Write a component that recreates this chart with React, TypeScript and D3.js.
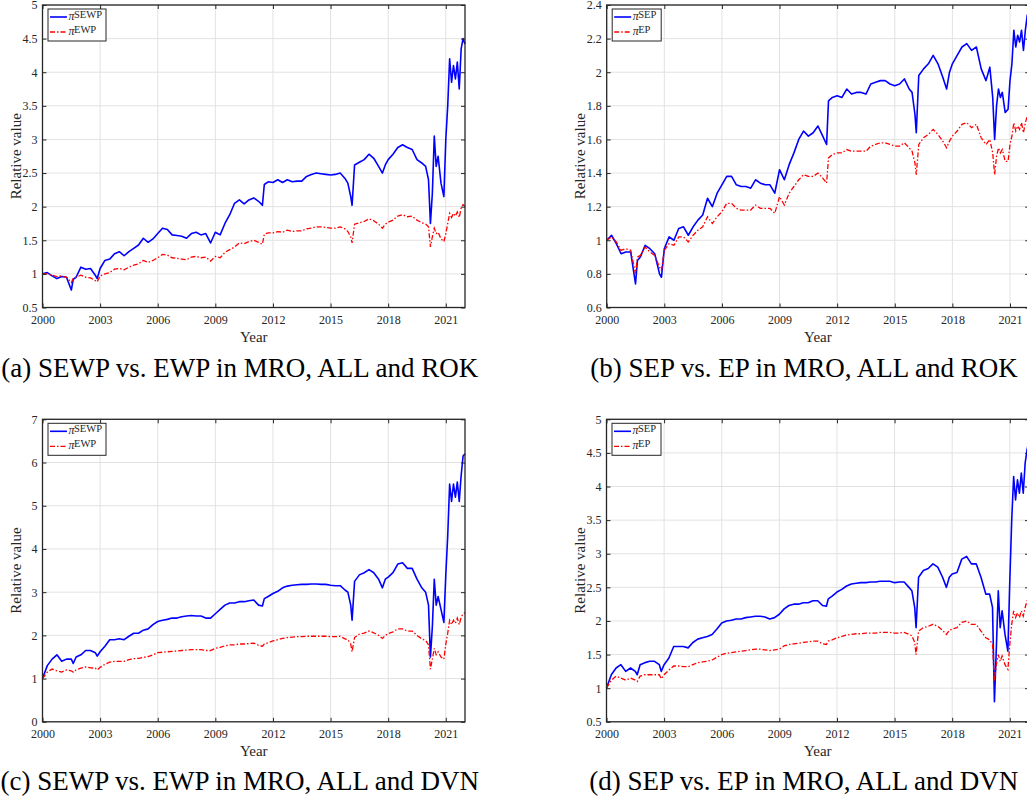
// App.tsx

import React, { useEffect, useRef } from "react";
import * as d3 from "d3";

// sample dates (fractional years), shared by every series
const dates = [
  2000, 2000.25, 2000.5, 2000.75, 2001, 2001.25, 2001.5, 2001.6, 2001.75, 2002, 2002.25, 2002.5, 2002.75, 2002.85,
  2003, 2003.25, 2003.5, 2003.75, 2004, 2004.25, 2004.5, 2004.75, 2005, 2005.25, 2005.5, 2005.75, 2006, 2006.25, 2006.5, 2006.75,
  2007, 2007.25, 2007.5, 2007.75, 2008, 2008.25, 2008.5, 2008.75, 2009, 2009.25, 2009.5, 2009.75, 2010, 2010.25, 2010.5, 2010.75, 2011, 2011.25,
  2011.45, 2011.55, 2011.75, 2012, 2012.25, 2012.5, 2012.75, 2013, 2013.25, 2013.5, 2013.75, 2014, 2014.25, 2014.5, 2014.75, 2015, 2015.25, 2015.5, 2015.75,
  2015.9, 2016.05, 2016.12, 2016.25, 2016.5, 2016.75, 2017, 2017.25, 2017.5, 2017.7, 2017.85, 2018, 2018.25, 2018.5, 2018.75, 2019, 2019.25, 2019.5, 2019.75, 2019.95,
  2020.1, 2020.2, 2020.3, 2020.4, 2020.5, 2020.6, 2020.75, 2020.9, 2021, 2021.1, 2021.2, 2021.3, 2021.4, 2021.5, 2021.6, 2021.7, 2021.8, 2021.9, 2022,
];

// (a) MRO, ALL and ROK
const sewpRok = [
  1.0, 1.02, 0.97, 0.93, 0.96, 0.95, 0.76, 0.92, 0.95, 1.1, 1.07, 1.08, 0.98, 0.93,
  1.08, 1.2, 1.22, 1.3, 1.33, 1.27, 1.33, 1.38, 1.43, 1.53, 1.47, 1.52, 1.6, 1.68, 1.66, 1.58,
  1.57, 1.56, 1.53, 1.6, 1.62, 1.58, 1.6, 1.46, 1.62, 1.58, 1.75, 1.88, 2.05, 2.1, 2.04, 2.1, 2.13, 2.08,
  2.02, 2.33, 2.37, 2.36, 2.4, 2.36, 2.4, 2.37, 2.38, 2.38, 2.45, 2.48, 2.5, 2.49, 2.48, 2.47, 2.48, 2.5, 2.42,
  2.35, 2.15, 2.02, 2.62, 2.66, 2.7, 2.78, 2.72, 2.6, 2.5, 2.62, 2.7, 2.78, 2.88, 2.92, 2.88, 2.85, 2.7, 2.65, 2.6,
  2.4, 1.75, 2.2, 3.05, 2.6, 2.75, 2.35, 2.15, 3.0, 3.5, 4.2, 3.85, 4.1, 3.9, 4.15, 3.75, 4.35, 4.5, 4.42,
];
const ewpRok = [
  1.0, 1.0, 0.98, 0.96, 0.97, 0.95, 0.87, 0.93, 0.95, 0.98, 0.95, 0.94, 0.9, 0.88,
  0.97, 1.0, 1.02, 1.07, 1.08, 1.06, 1.1, 1.13, 1.15, 1.2, 1.17, 1.2, 1.24, 1.29, 1.28, 1.24,
  1.23, 1.22, 1.21, 1.25, 1.26, 1.24, 1.25, 1.19, 1.26, 1.24, 1.32, 1.36, 1.4, 1.46, 1.45, 1.48, 1.5, 1.47,
  1.44, 1.59, 1.61, 1.61, 1.63, 1.62, 1.65, 1.63, 1.64, 1.64, 1.67, 1.68, 1.7, 1.7, 1.69, 1.68, 1.68, 1.7, 1.67,
  1.63, 1.55, 1.46, 1.74, 1.76, 1.78, 1.82, 1.79, 1.74, 1.68, 1.74, 1.77, 1.8, 1.86, 1.88, 1.85, 1.86, 1.8, 1.76, 1.74,
  1.7, 1.4, 1.55, 1.68, 1.6, 1.62, 1.52, 1.48, 1.6, 1.75, 1.9, 1.84, 1.9, 1.86, 1.92, 1.84, 1.98, 2.03, 2.0,
];

// (b) MRO, ALL and ROK
const sepRok = [
  1.0, 1.03, 0.98, 0.92, 0.93, 0.93, 0.74, 0.88, 0.9, 0.97, 0.95, 0.92, 0.8, 0.78,
  0.95, 1.02, 1.0, 1.07, 1.08, 1.03, 1.08, 1.12, 1.15, 1.25, 1.2, 1.28, 1.33, 1.38, 1.38, 1.33,
  1.32, 1.32, 1.31, 1.36, 1.34, 1.33, 1.33, 1.28, 1.42, 1.36, 1.45, 1.52, 1.6, 1.65, 1.62, 1.64, 1.68, 1.62,
  1.57, 1.83, 1.85, 1.86, 1.85, 1.9, 1.87, 1.88, 1.88, 1.87, 1.93, 1.94, 1.95, 1.95, 1.93, 1.92, 1.93, 1.96, 1.9,
  1.88, 1.75, 1.64, 1.98, 2.02, 2.05, 2.1, 2.05, 1.97, 1.9, 2.0, 2.05, 2.1, 2.15, 2.17, 2.13, 2.15, 2.02, 1.95, 2.03,
  1.85, 1.6, 1.8, 1.9, 1.85, 1.88, 1.76, 1.78, 1.95, 2.05, 2.25, 2.15, 2.22, 2.18, 2.25, 2.13, 2.25, 2.34, 2.36,
];
const epRok = [
  1.0, 1.02, 0.99, 0.94, 0.95, 0.94, 0.8, 0.9, 0.91, 0.96, 0.93, 0.91, 0.84, 0.82,
  0.94, 0.98, 0.97, 1.02, 1.02, 0.99, 1.03, 1.06, 1.08, 1.14, 1.1, 1.14, 1.17, 1.22, 1.22, 1.19,
  1.18, 1.18, 1.18, 1.21, 1.19, 1.19, 1.19, 1.16, 1.26, 1.21, 1.28, 1.32, 1.36, 1.39, 1.38, 1.38, 1.4, 1.37,
  1.34, 1.49, 1.51, 1.52, 1.52, 1.54, 1.53, 1.53, 1.53, 1.53, 1.56, 1.57, 1.58, 1.58, 1.57, 1.56, 1.56, 1.58, 1.55,
  1.53, 1.46, 1.39, 1.57, 1.61, 1.63, 1.66, 1.63, 1.59, 1.55, 1.59, 1.62, 1.65, 1.69, 1.7, 1.67, 1.69, 1.61, 1.57, 1.6,
  1.52, 1.39, 1.5, 1.55, 1.52, 1.54, 1.47, 1.47, 1.57, 1.62, 1.7, 1.65, 1.68, 1.66, 1.7, 1.64, 1.7, 1.74, 1.76,
];

// (c) MRO, ALL and DVN
const sewpDvn = [
  1.0, 1.3, 1.45, 1.55, 1.4, 1.45, 1.45, 1.35, 1.5, 1.55, 1.65, 1.65, 1.6, 1.52,
  1.62, 1.75, 1.9, 1.9, 1.92, 1.9, 1.98, 2.05, 2.05, 2.12, 2.15, 2.25, 2.32, 2.35, 2.37, 2.4,
  2.4, 2.43, 2.45, 2.46, 2.45, 2.45, 2.4, 2.4, 2.5, 2.6, 2.7, 2.75, 2.75, 2.78, 2.78, 2.8, 2.82, 2.7,
  2.68, 2.85, 2.9, 2.97, 3.02, 3.1, 3.14, 3.16, 3.17, 3.18, 3.18, 3.19, 3.19, 3.18, 3.18, 3.16, 3.15, 3.15, 3.05,
  3.0, 2.7, 2.35, 3.25, 3.4, 3.45, 3.52, 3.45, 3.3, 3.1, 3.3, 3.35, 3.45, 3.65, 3.68, 3.55, 3.55, 3.3, 3.1, 3.0,
  2.7, 1.5, 2.2, 3.3, 2.7, 2.9, 2.6, 2.3, 3.4, 4.3, 5.5, 5.1, 5.5, 5.2, 5.55, 5.1, 5.7, 6.15, 6.2,
];
const ewpDvn = [
  1.0, 1.15, 1.22, 1.18, 1.15, 1.2, 1.18, 1.15, 1.2, 1.24, 1.27, 1.25, 1.24, 1.2,
  1.26, 1.33, 1.38, 1.4, 1.4, 1.4, 1.44, 1.46, 1.47, 1.49, 1.51, 1.55, 1.6, 1.61, 1.62, 1.63,
  1.64, 1.65, 1.66, 1.67, 1.67, 1.67, 1.65, 1.65, 1.7, 1.72, 1.76, 1.78, 1.78, 1.8, 1.8, 1.81, 1.82, 1.77,
  1.75, 1.8, 1.83, 1.87, 1.9, 1.93, 1.95, 1.96, 1.97, 1.97, 1.98, 1.98, 1.98, 1.98, 1.98, 1.97, 1.97, 1.98, 1.92,
  1.9, 1.8, 1.62, 1.95, 2.03, 2.05, 2.1, 2.06, 2.0, 1.93, 2.0, 2.04, 2.08, 2.15, 2.15, 2.1, 2.1, 2.0, 1.92, 1.88,
  1.78, 1.22, 1.45, 1.7, 1.55, 1.62, 1.5, 1.45, 1.8, 2.05, 2.35, 2.25, 2.35, 2.28, 2.4, 2.25, 2.42, 2.5, 2.52,
];

// (d) MRO, ALL and DVN
const sepDvn = [
  1.0, 1.2, 1.3, 1.35, 1.25, 1.3, 1.25, 1.2, 1.35, 1.38, 1.4, 1.4, 1.35, 1.25,
  1.35, 1.45, 1.62, 1.62, 1.62, 1.6, 1.68, 1.73, 1.75, 1.77, 1.8, 1.88, 1.97, 2.0, 2.01, 2.03,
  2.03, 2.05, 2.06, 2.07, 2.07, 2.06, 2.03, 2.05, 2.1, 2.18, 2.23, 2.25, 2.25, 2.27, 2.27, 2.3, 2.3, 2.23,
  2.22, 2.33, 2.37, 2.43, 2.47, 2.52, 2.55, 2.56, 2.57, 2.57, 2.58, 2.58, 2.59, 2.59, 2.59, 2.57, 2.58, 2.58, 2.5,
  2.45, 2.2, 1.9, 2.65, 2.75, 2.78, 2.85, 2.8, 2.65, 2.5, 2.65, 2.7, 2.72, 2.92, 2.96, 2.85, 2.85, 2.65, 2.4, 2.4,
  2.2, 0.8, 1.6, 2.45, 1.9, 2.15, 1.8, 1.55, 2.6, 3.5, 4.15, 3.8, 4.1, 3.9, 4.2, 3.9, 4.35, 4.55, 4.68,
];
const epDvn = [
  1.0, 1.12, 1.18, 1.15, 1.12, 1.15, 1.12, 1.1, 1.18, 1.2, 1.2, 1.2, 1.2, 1.14,
  1.2, 1.27, 1.33, 1.33, 1.32, 1.32, 1.35, 1.38, 1.39, 1.4, 1.42, 1.46, 1.5, 1.52, 1.53, 1.54,
  1.55, 1.56, 1.57, 1.58, 1.58, 1.57, 1.56, 1.57, 1.58, 1.63, 1.65, 1.66, 1.67, 1.68, 1.69, 1.7, 1.7, 1.66,
  1.65, 1.7, 1.72, 1.75, 1.77, 1.79, 1.8, 1.81, 1.81, 1.82, 1.82, 1.82, 1.83, 1.83, 1.83, 1.82, 1.82, 1.83, 1.8,
  1.78, 1.68, 1.5, 1.85, 1.9, 1.92, 1.95, 1.92, 1.86, 1.8, 1.86, 1.88, 1.9, 1.98, 2.0, 1.95, 1.95, 1.85, 1.75, 1.72,
  1.65, 1.1, 1.35, 1.5, 1.4, 1.48, 1.35, 1.28, 1.65, 1.95, 2.15, 2.05, 2.12, 2.05, 2.15, 2.07, 2.2, 2.3, 2.33,
];

const yearTicks = [2000, 2003, 2006, 2009, 2012, 2015, 2018, 2021];
const yTicksA = [0.5, 1, 1.5, 2, 2.5, 3, 3.5, 4, 4.5, 5];
const yTicksB = [0.6, 0.8, 1, 1.2, 1.4, 1.6, 1.8, 2, 2.2, 2.4];
const yTicksC = [0, 1, 2, 3, 4, 5, 6, 7];
const yTicksD = [0.5, 1, 1.5, 2, 2.5, 3, 3.5, 4, 4.5, 5];

const serif = "'Liberation Serif', 'Times New Roman', serif";
const axisColor = "#262626";

const panels = [
  { left: 42.5, top: 5, yDomain: [0.5, 5], yTicks: yTicksA, blue: sewpRok, red: ewpRok, blueName: "SEWP", redName: "EWP", legendW: 58, caption: "(a) SEWP vs. EWP in MRO, ALL and ROK", capY: 377 },
  { left: 606.7, top: 5, yDomain: [0.6, 2.4], yTicks: yTicksB, blue: sepRok, red: epRok, blueName: "SEP", redName: "EP", legendW: 49, caption: "(b) SEP vs. EP in MRO, ALL and ROK", capY: 377 },
  { left: 42.5, top: 419.3, yDomain: [0, 7], yTicks: yTicksC, blue: sewpDvn, red: ewpDvn, blueName: "SEWP", redName: "EWP", legendW: 58, caption: "(c) SEWP vs. EWP in MRO, ALL and DVN", capY: 790 },
  { left: 606.5, top: 419.3, yDomain: [0.5, 5], yTicks: yTicksD, blue: sepDvn, red: epDvn, blueName: "SEP", redName: "EP", legendW: 49, caption: "(d) SEP vs. EP in MRO, ALL and DVN", capY: 790 },
];

const plotW = 422.5;
const plotH = 302.5;

const drawPanel = (svg: any, p: any) => {
  const x = d3.scaleLinear().domain([2000, 2022]).range([p.left, p.left + plotW]);
  const y = d3.scaleLinear().domain(p.yDomain).range([p.top + plotH, p.top]);
  const g = svg.append("g");

  // grid
  g.selectAll(".gx")
    .data(yearTicks)
    .enter()
    .append("line")
    .attr("x1", (d: number) => x(d))
    .attr("x2", (d: number) => x(d))
    .attr("y1", p.top)
    .attr("y2", p.top + plotH)
    .attr("stroke", "#e2e2e2")
    .attr("stroke-width", 1);
  g.selectAll(".gy")
    .data(p.yTicks)
    .enter()
    .append("line")
    .attr("x1", p.left)
    .attr("x2", p.left + plotW)
    .attr("y1", (d: number) => y(d))
    .attr("y2", (d: number) => y(d))
    .attr("stroke", "#e2e2e2")
    .attr("stroke-width", 1);

  // series
  const line = d3
    .line<[number, number]>()
    .x((d) => x(d[0]))
    .y((d) => y(d[1]));

  g.append("path")
    .datum(d3.zip(dates, p.blue))
    .attr("d", line as any)
    .attr("fill", "none")
    .attr("stroke", "#0000ff")
    .attr("stroke-width", 1.6)
    .attr("stroke-linejoin", "round");
  g.append("path")
    .datum(d3.zip(dates, p.red))
    .attr("d", line as any)
    .attr("fill", "none")
    .attr("stroke", "#ff0000")
    .attr("stroke-width", 1.3)
    .attr("stroke-dasharray", "5,2,1.5,2");

  // axes, ticks pointing inward
  const styleAxis = (a: any) => {
    a.select(".domain").remove();
    a.selectAll("line").attr("stroke", axisColor);
    a.selectAll("text").attr("fill", axisColor).style("font-family", serif).style("font-size", "12px");
  };
  g.append("g")
    .attr("transform", `translate(0,${p.top + plotH})`)
    .call(d3.axisBottom(x).tickValues(yearTicks).tickSize(-4).tickPadding(8).tickFormat(d3.format("d")))
    .call(styleAxis);
  g.append("g")
    .attr("transform", `translate(0,${p.top})`)
    .call(d3.axisTop(x).tickValues(yearTicks).tickSize(-4).tickFormat(() => ""))
    .call(styleAxis);
  g.append("g")
    .attr("transform", `translate(${p.left},0)`)
    .call(d3.axisLeft(y).tickValues(p.yTicks).tickSize(-4).tickPadding(5).tickFormat((d: any) => String(d)))
    .call(styleAxis);
  g.append("g")
    .attr("transform", `translate(${p.left + plotW},0)`)
    .call(d3.axisRight(y).tickValues(p.yTicks).tickSize(-4).tickFormat(() => ""))
    .call(styleAxis);

  g.append("rect")
    .attr("x", p.left)
    .attr("y", p.top)
    .attr("width", plotW)
    .attr("height", plotH)
    .attr("fill", "none")
    .attr("stroke", axisColor)
    .attr("stroke-width", 1.3);

  // axis labels
  g.append("text")
    .attr("x", p.left + plotW / 2)
    .attr("y", p.top + plotH + 34.5)
    .attr("text-anchor", "middle")
    .attr("fill", axisColor)
    .style("font-family", serif)
    .style("font-size", "15px")
    .text("Year");
  g.append("text")
    .attr("transform", `translate(${p.left - 22},${p.top + plotH / 2}) rotate(-90)`)
    .attr("text-anchor", "middle")
    .attr("fill", axisColor)
    .style("font-family", serif)
    .style("font-size", "15px")
    .text("Relative value");

  // legend
  const lx = p.left + 5.5;
  const ly = p.top + 4;
  g.append("rect")
    .attr("x", lx)
    .attr("y", ly)
    .attr("width", p.legendW)
    .attr("height", 32)
    .attr("fill", "#fff")
    .attr("stroke", axisColor)
    .attr("stroke-width", 1);
  const entries = [
    { name: p.blueName, color: "#0000ff", dash: null, width: 1.6, yy: ly + 8 },
    { name: p.redName, color: "#ff0000", dash: "5,2,1.5,2", width: 1.3, yy: ly + 23 },
  ];
  entries.forEach((e) => {
    g.append("line")
      .attr("x1", lx + 2)
      .attr("x2", lx + 19)
      .attr("y1", e.yy)
      .attr("y2", e.yy)
      .attr("stroke", e.color)
      .attr("stroke-width", e.width)
      .attr("stroke-dasharray", e.dash);
    g.append("text")
      .attr("x", lx + 20.5)
      .attr("y", e.yy + 3)
      .attr("fill", axisColor)
      .style("font-family", serif)
      .style("font-style", "italic")
      .style("font-size", "12px")
      .text("π");
    g.append("text")
      .attr("x", lx + 26)
      .attr("y", e.yy + 0.5)
      .attr("fill", axisColor)
      .style("font-family", serif)
      .style("font-size", "10.5px")
      .text(e.name);
  });

  // caption
  svg
    .append("text")
    .attr("x", p.left + plotW / 2 - 14)
    .attr("y", p.capY)
    .attr("text-anchor", "middle")
    .attr("fill", "#000")
    .style("font-family", serif)
    .style("font-size", "27px")
    .text(p.caption);
};

const App: React.FC = () => {
  const ref = useRef<SVGSVGElement>(null);

  useEffect(() => {
    const svg = d3.select(ref.current);
    svg.selectAll("*").remove();
    panels.forEach((p) => drawPanel(svg, p));
  }, []);

  return (
    <svg
      ref={ref}
      width={1027}
      height={803}
      style={{ position: "absolute", left: 0, top: 0, background: "#fff" }}
    />
  );
};

export default App;
